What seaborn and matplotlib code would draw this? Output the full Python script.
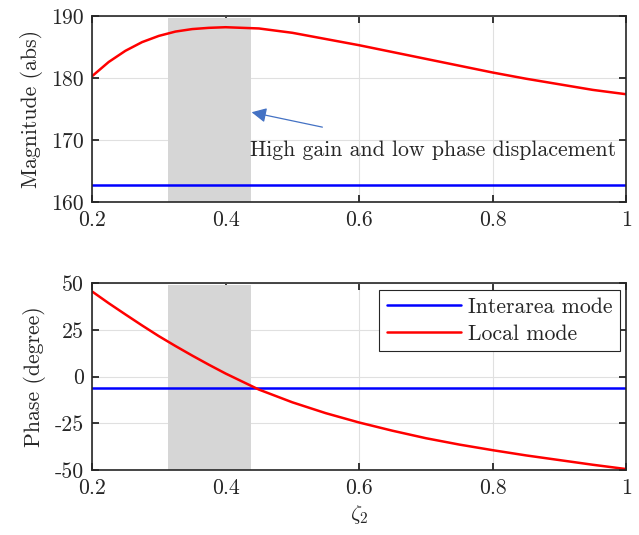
import matplotlib
matplotlib.use("Agg")
import numpy as np
import pandas as pd
import seaborn as sns
from matplotlib import pyplot

# damping ratio of the second controller
zeta = [0.200, 0.225, 0.250, 0.275, 0.300, 0.325, 0.350, 0.375, 0.400, 0.450, 0.500, 0.550,
        0.600, 0.650, 0.700, 0.750, 0.800, 0.850, 0.900, 0.950, 1.000]
mag_local = [180.3, 182.6, 184.4, 185.8, 186.8, 187.5, 187.9, 188.1, 188.2, 188.0, 187.3, 186.3,
             185.3, 184.2, 183.1, 182.0, 180.9, 179.9, 179.0, 178.1, 177.4]
mag_interarea = [162.7] * len(zeta)
phase_local = [45.5, 39.2, 33.2, 27.3, 21.6, 16.3, 11.2, 6.3, 1.6, -7.0, -13.8, -19.6,
               -24.6, -29.0, -33.0, -36.4, -39.4, -42.2, -44.7, -47.2, -49.5]
phase_interarea = [-6.3] * len(zeta)

shade = (0.314, 0.438)
xticks = [0.2, 0.4, 0.6, 0.8, 1.0]
xticklabels = ["0.2", "0.4", "0.6", "0.8", "1"]
mag_ticks = [160, 170, 180, 190]
phase_ticks = [-50, -25, 0, 25, 50]

sns.set_style("ticks")
pyplot.rcParams["font.family"] = ["cmr10", "DejaVu Serif"]
pyplot.rcParams["mathtext.fontset"] = "cm"
pyplot.rcParams["axes.unicode_minus"] = False
pyplot.rcParams["axes.formatter.use_mathtext"] = True
fontsize = 15.7

df_mag = pd.DataFrame({"zeta": zeta, "local": mag_local, "inter": mag_interarea})
df_ph = pd.DataFrame({"zeta": zeta, "local": phase_local, "inter": phase_interarea})

fig = pyplot.figure(figsize=(6.39, 5.35), dpi=100)
ax1 = fig.add_axes([0.144, 0.622, 0.836, 0.348])
ax2 = fig.add_axes([0.144, 0.1215, 0.836, 0.3495])


def style_axis(ax, yticks, ylim, yticklabels, ylabel):
    ax.set_xlim(0.2, 1.0)
    ax.set_ylim(*ylim)
    ax.set_xticks(xticks)
    ax.set_xticklabels(xticklabels)
    ax.set_yticks(yticks)
    ax.set_yticklabels(yticklabels)
    ax.grid(True, color="#e0e0e0", linewidth=0.8)
    ax.set_axisbelow(True)
    ax.tick_params(direction="in", top=True, right=True, length=5, width=1.3,
                   labelsize=fontsize, color="#262626", pad=6)
    for s in ax.spines.values():
        s.set_color("#262626")
        s.set_linewidth(1.2)
        s.set_zorder(5)
    ax.set_ylabel(ylabel, fontsize=fontsize, labelpad=6)
    ax.set_xlabel("")


# magnitude panel
ax1.fill_between(shade, 160, 189.7, color="#d6d6d6", linewidth=0, zorder=1)
sns.lineplot(data=df_mag, x="zeta", y="inter", ax=ax1, color="#0000ff", linewidth=1.8, zorder=3)
sns.lineplot(data=df_mag, x="zeta", y="local", ax=ax1, color="#ff0000", linewidth=1.8, zorder=3)
style_axis(ax1, mag_ticks, (160, 190), [str(t) for t in mag_ticks], "Magnitude (abs)")
ax1.annotate("High gain and low phase displacement", xy=(0.439, 174.5), xytext=(0.436, 168.4),
             fontsize=fontsize, va="center", ha="left", zorder=6)
ax1.annotate("", xy=(0.439, 174.5), xytext=(0.545, 172.1),
             arrowprops=dict(arrowstyle="-|>", color="#4472c4", lw=0.9, mutation_scale=22,
                             shrinkA=0, shrinkB=0), zorder=6)

# phase panel
ax2.fill_between(shade, -50, 49.2, color="#d6d6d6", linewidth=0, zorder=1)
sns.lineplot(data=df_ph, x="zeta", y="inter", ax=ax2, color="#0000ff", linewidth=1.8,
             label="Interarea mode", zorder=3)
sns.lineplot(data=df_ph, x="zeta", y="local", ax=ax2, color="#ff0000", linewidth=1.8,
             label="Local mode", zorder=3)
style_axis(ax2, phase_ticks, (-50, 50), [str(t) for t in phase_ticks], "Phase (degree)")
ax2.set_xlabel(r"$\zeta_2$", fontsize=fontsize)
leg = ax2.legend(loc="upper right", fontsize=fontsize, fancybox=False, framealpha=1,
                 edgecolor="#262626", handlelength=3.4, borderpad=0.35, labelspacing=0.35,
                 handletextpad=0.3, borderaxespad=0.3)
leg.get_frame().set_linewidth(0.8)
leg.set_zorder(10)

fig.savefig("out.png", dpi=100)
